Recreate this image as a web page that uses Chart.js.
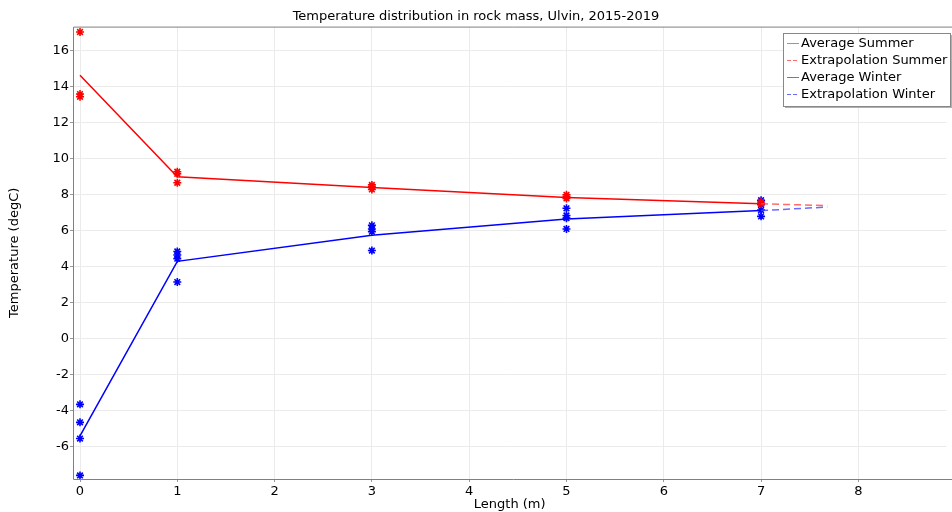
<!DOCTYPE html>
<html>
<head>
<meta charset="utf-8">
<script src="https://cdn.jsdelivr.net/npm/chart.js@4"></script>
<style>
  html, body { margin: 0; padding: 0; background: #fff; }
  #wrap { width: 952px; height: 512px; }
</style>
</head>
<body>
<div id="wrap"><canvas id="temp-chart"></canvas></div>
<script>
// Measurement depths (m)
const lengths = [0, 1, 3, 5, 7];
// Average temperatures per depth
const summerAvg = [14.65, 9.0, 8.4, 7.85, 7.5];
const winterAvg = [-5.4, 4.3, 5.75, 6.65, 7.12];
// Extrapolation beyond the last sensor
const extrapLengths = [7, 7.68];
const summerExtrap = [7.5, 7.4];
const winterExtrap = [7.12, 7.32];
// Individual measurements (one list per depth)
const summerMeasured = [
    [17.05, 13.6, 13.45],
    [9.28, 9.17, 8.67],
    [8.55, 8.45, 8.3],
    [8.0, 7.9, 7.8],
    [7.6, 7.5]
];
const winterMeasured = [
    [-3.65, -4.65, -5.55, -7.6],
    [4.85, 4.65, 4.45, 3.15],
    [6.3, 6.1, 5.95, 4.9],
    [7.25, 6.85, 6.7, 6.1],
    [7.7, 7.45, 7.15, 6.8]
];
const xTicks = [0, 1, 2, 3, 4, 5, 6, 7, 8];
const yTicks = [-6, -4, -2, 0, 2, 4, 6, 8, 10, 12, 14, 16];

const FONT = 'DejaVu Sans';

function toPoints(xs, ys) {
    return xs.map((x, i) => ({ x: x, y: ys[i] }));
}

function measuredPoints(groups) {
    const pts = [];
    groups.forEach((vals, i) => vals.forEach(v => pts.push({ x: lengths[i], y: v })));
    return pts;
}

// Draws the frame around the plot and the boxed legend inside it
const framePlugin = {
    id: 'frame',
    afterDraw(chart) {
        const ctx = chart.ctx;
        const a = chart.chartArea;
        ctx.save();
        ctx.strokeStyle = '#808080';
        ctx.lineWidth = 1;
        ctx.beginPath();
        ctx.moveTo(a.right + 8, a.top + 0.5);
        ctx.lineTo(a.left + 0.5, a.top + 0.5);
        ctx.lineTo(a.left + 0.5, a.bottom + 0.5);
        ctx.lineTo(a.right + 8, a.bottom + 0.5);
        ctx.stroke();

        // legend box
        const bx = 783, by = 33, bw = 167, bh = 73;
        ctx.fillStyle = '#b0b0b0';
        ctx.fillRect(bx + 2, by + 2, bw, bh);
        ctx.fillStyle = '#ffffff';
        ctx.fillRect(bx, by, bw, bh);
        ctx.strokeStyle = '#888888';
        ctx.strokeRect(bx + 0.5, by + 0.5, bw, bh);

        const entries = chart.data.datasets.filter(d => d.inLegend);
        ctx.font = '13px "' + FONT + '"';
        ctx.textBaseline = 'middle';
        entries.forEach((d, i) => {
            const y = by + 10.5 + i * 17;
            ctx.strokeStyle = d.legendColor;
            ctx.lineWidth = 1;
            ctx.setLineDash(d.legendDash || []);
            ctx.beginPath();
            ctx.moveTo(bx + 4, y);
            ctx.lineTo(bx + 16, y);
            ctx.stroke();
            ctx.setLineDash([]);
            ctx.fillStyle = '#000';
            ctx.fillText(d.label, bx + 18, y + 0.5);
        });
        ctx.restore();
    }
};

const starPoint = (color) => ({
    showLine: false,
    pointStyle: 'star',
    pointRadius: 4,
    pointBorderWidth: 1.6,
    borderColor: color,
    backgroundColor: color,
    clip: false
});

new Chart(document.getElementById('temp-chart'), {
    type: 'scatter',
    data: {
        datasets: [
            {
                label: 'Average Summer', inLegend: true, legendColor: '#ff6a6a',
                data: toPoints(lengths, summerAvg),
                showLine: true, borderColor: '#ff0000', borderWidth: 1.5, pointRadius: 0
            },
            {
                label: 'Extrapolation Summer', inLegend: true, legendColor: '#ff6a6a', legendDash: [4, 2],
                data: toPoints(extrapLengths, summerExtrap),
                showLine: true, borderColor: 'rgba(255,70,70,0.8)', borderWidth: 1.5,
                borderDash: [7, 4], pointRadius: 0
            },
            {
                label: 'Average Winter', inLegend: true, legendColor: '#6a6aff',
                data: toPoints(lengths, winterAvg),
                showLine: true, borderColor: '#0000ff', borderWidth: 1.5, pointRadius: 0
            },
            {
                label: 'Extrapolation Winter', inLegend: true, legendColor: '#6a6aff', legendDash: [4, 2],
                data: toPoints(extrapLengths, winterExtrap),
                showLine: true, borderColor: 'rgba(70,70,255,0.8)', borderWidth: 1.5,
                borderDash: [7, 4], pointRadius: 0
            },
            Object.assign({ label: 'Summer data', data: measuredPoints(summerMeasured) }, starPoint('#ff0000')),
            Object.assign({ label: 'Winter data', data: measuredPoints(winterMeasured) }, starPoint('#0000ff'))
        ]
    },
    options: {
        responsive: true,
        maintainAspectRatio: false,
        animation: false,
        layout: { padding: 0 },
        plugins: {
            legend: { display: false },
            tooltip: { enabled: false },
            title: {
                display: true,
                text: 'Temperature distribution in rock mass, Ulvin, 2015-2019',
                color: '#000',
                font: { family: FONT, size: 13, weight: 'normal' },
                padding: { top: 9, bottom: 2 }
            }
        },
        scales: {
            x: {
                type: 'linear',
                min: -0.072,
                max: 8.905,
                afterBuildTicks: (scale) => { scale.ticks = xTicks.map(v => ({ value: v })); },
                afterFit: (scale) => {
                    scale.height = 33;
                    scale.paddingRight = 0;
                    scale.paddingLeft = 0;
                },
                ticks: {
                    color: '#000',
                    font: { family: FONT, size: 13 },
                    padding: 2
                },
                grid: { color: '#ebebeb', drawTicks: true, tickLength: 3, tickColor: '#999' },
                border: { display: false },
                title: {
                    display: true,
                    text: 'Length (m)',
                    color: '#000',
                    font: { family: FONT, size: 13 },
                    padding: { top: 0, bottom: 0 }
                }
            },
            y: {
                type: 'linear',
                min: -7.8,
                max: 17.35,
                afterBuildTicks: (scale) => { scale.ticks = yTicks.map(v => ({ value: v })); },
                afterFit: (scale) => { scale.width = 73; },
                ticks: {
                    color: '#000',
                    font: { family: FONT, size: 13 },
                    padding: 1
                },
                grid: { color: '#ebebeb', drawTicks: true, tickLength: 3, tickColor: '#999' },
                border: { display: false },
                title: {
                    display: true,
                    text: 'Temperature (degC)',
                    color: '#000',
                    font: { family: FONT, size: 13 },
                    padding: { top: 7, bottom: 0 }
                }
            }
        }
    },
    plugins: [framePlugin]
});
</script>
</body>
</html>
